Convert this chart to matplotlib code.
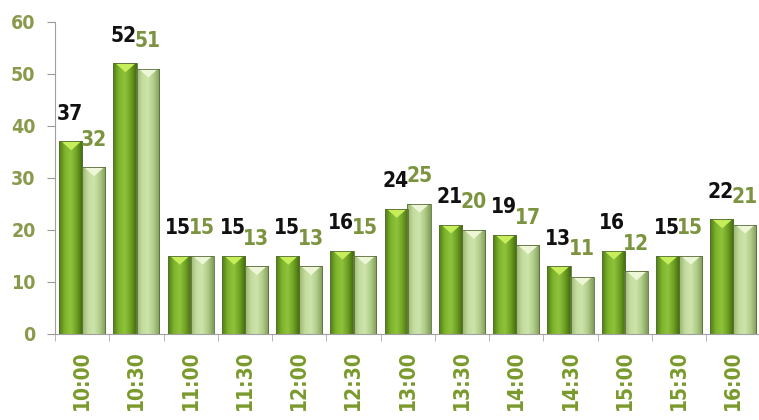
import numpy as np
import matplotlib
matplotlib.use("Agg")
import matplotlib.pyplot as plt
from matplotlib.colors import LinearSegmentedColormap
from matplotlib import font_manager as fm

categories = ["10:00", "10:30", "11:00", "11:30", "12:00", "12:30", "13:00",
              "13:30", "14:00", "14:30", "15:00", "15:30", "16:00"]
series_a = [37, 52, 15, 15, 15, 16, 24, 21, 19, 13, 16, 15, 22]
series_b = [32, 51, 15, 13, 13, 15, 25, 20, 17, 11, 12, 15, 21]
y_ticks = [0, 10, 20, 30, 40, 50, 60]

names = {f.name for f in fm.fontManager.ttflist}
narrow = "Liberation Sans Narrow" if "Liberation Sans Narrow" in names else None
if narrow:
    FONT = dict(family=narrow)
else:
    FONT = dict(family="DejaVu Sans", stretch="condensed")

fig = plt.figure(figsize=(7.59, 4.2), dpi=100)
ax = fig.add_axes([0.0725, 0.205, 0.935, 0.743])

n = len(categories)
x = np.arange(n)
w = 0.43
off_a = -0.21
off_b = 0.21

cmap_a = LinearSegmentedColormap.from_list("a", ["#4f7d12", "#7fb52e", "#8fc33c", "#6e9f22", "#3f6a0c"])
cmap_b = LinearSegmentedColormap.from_list("b", ["#97b46c", "#c3dc9e", "#cde4ab", "#b0cc88", "#7f9c58"])
grad = np.linspace(0, 1, 64).reshape(1, -1)

def draw_bars(pos, vals, cmap, topcol):
    bars = ax.bar(pos, vals, width=w, color="none", edgecolor="#5a6e3a", linewidth=0.6, zorder=3)
    for b, v in zip(bars, vals):
        x0 = b.get_x(); x1 = x0 + b.get_width()
        im = ax.imshow(grad, cmap=cmap, aspect="auto", extent=(x0, x1, 0, v), zorder=2)
        im.set_clip_path(b)
        ax.fill_between([x0 + 0.05, x0 + b.get_width() / 2, x1 - 0.05],
                        [v - 0.05, v - 1.6, v - 0.05], [v, v, v],
                        color=topcol, zorder=2.5, linewidth=0)
    return bars

draw_bars(x + off_a, series_a, cmap_a, "#c6ee5a")
draw_bars(x + off_b, series_b, cmap_b, "#eef6d8")

for xi, a, b in zip(x, series_a, series_b):
    ax.text(xi + off_a - 0.02, a + 3.4, str(a), ha="center", va="bottom",
            fontsize=15, fontweight="bold", color="#111111", zorder=5, **FONT)
    ax.text(xi + off_b + 0.0, b + 3.4, str(b), ha="center", va="bottom",
            fontsize=15, fontweight="bold", color="#7c9440", zorder=5, **FONT)

ax.set_xlim(-0.5, n - 0.5 + 0.08)
ax.set_ylim(0, 60)
ax.set_yticks(y_ticks)
ax.set_yticklabels([str(t) for t in y_ticks], fontsize=14, fontweight="bold",
                   color="#8a9a4c", **FONT)
ax.set_xticks(x)
ax.set_xticklabels(categories, rotation=90, fontsize=15, fontweight="bold",
                   color="#7a9a2c", **FONT)
ax.tick_params(axis="x", length=0, pad=12)
ax.set_xticks(np.arange(n + 1) - 0.5, minor=True)
ax.tick_params(axis="x", which="minor", length=5, color="#aaaaaa", direction="out")
ax.tick_params(axis="y", length=6, color="#999999", direction="out", pad=8)

for s in ["top", "right"]:
    ax.spines[s].set_visible(False)
ax.spines["left"].set_color("#a0a0a0")
ax.spines["bottom"].set_color("#a0a0a0")
ax.patch.set_alpha(0)

fig.savefig("out.png", dpi=100)
